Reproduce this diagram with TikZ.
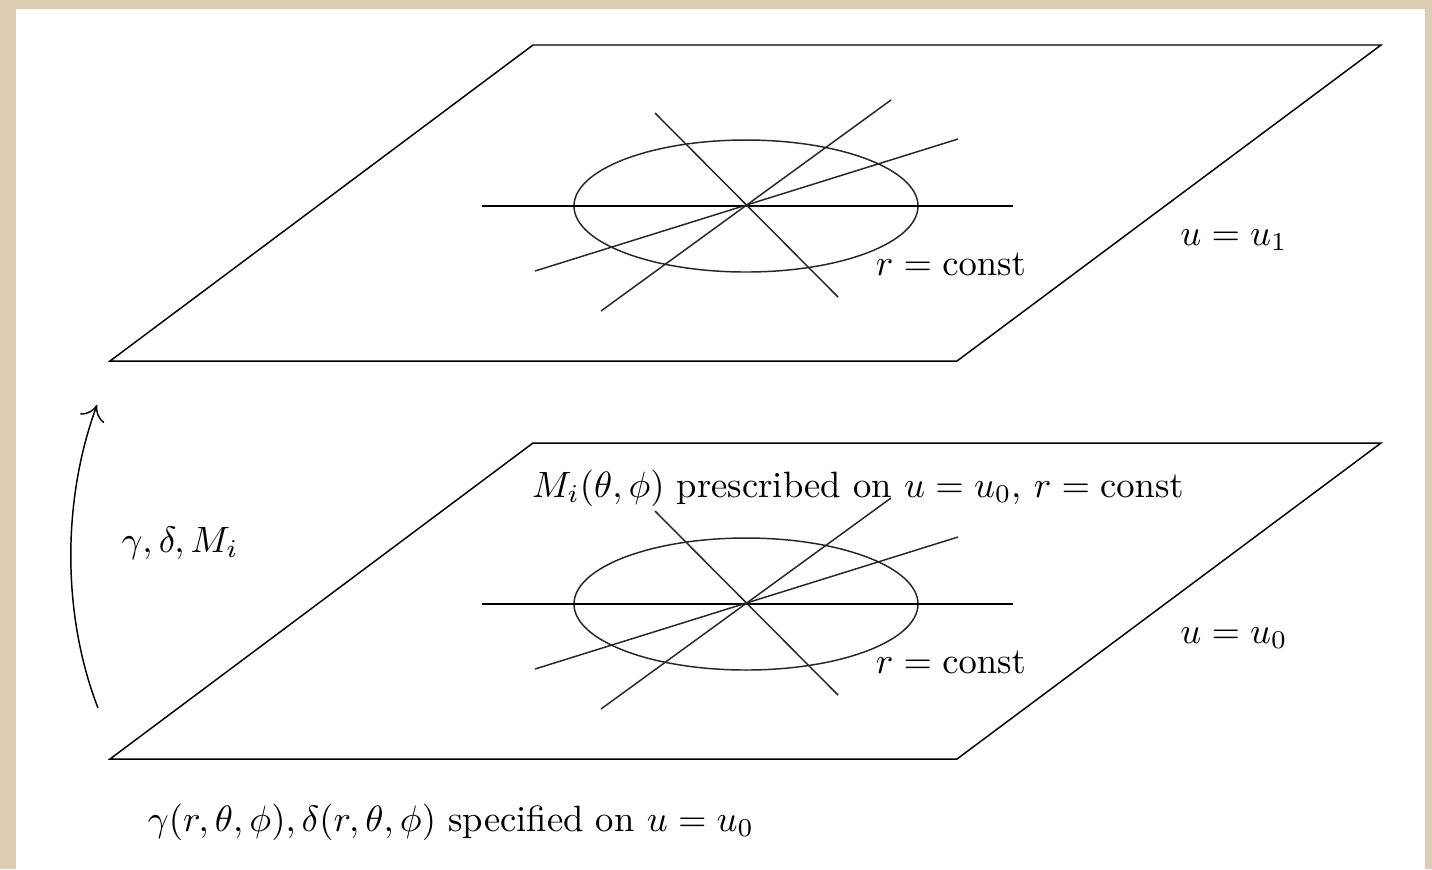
\documentclass[tikz,border=0pt]{standalone}
\usepackage{amsmath}
\usepackage{amssymb}
\usepackage{tikz}
\usetikzlibrary{calc,arrows.meta}
\definecolor{parchment}{RGB}{222,205,178}

\begin{document}
\begin{tikzpicture}[x=0.273pt, y=-0.273pt]
	\tikzset{plane/.style = {draw, line join=miter}, ray/.style = {draw, black!85}}
	\fill[parchment] (0,0) rectangle (1432,869);
	\fill[white] (16,9) rectangle (1425,869);
	\useasboundingbox (0,0) rectangle (1432,869);
	\foreach \n/\dy/\k in {top/0/1, bot/398/0}{
		\begin{scope}[shift={(0,\dy)}]
			\draw[plane] (110,361) -- (957,361) -- (1381,45) -- (533,45) -- cycle;
			\coordinate (c\n) at (746,206);
			\draw[ray] (c\n) ellipse [x radius=172, y radius=66];
			\draw (482,206) -- (1013,206);
			\draw[ray] (655,113) -- (838,297);
			\draw[ray] (601,311) -- (891,100);
			\draw[ray] (535,271) -- (958,139);
			\node (r\n) at (951,264) {$r = \mathrm{const}$};
			\node (u\n) at (1234,240) {$u = u_\k$};
		\end{scope}
	}
	\node (presc) at (858,488) {$M_i(\theta,\phi)$ prescribed on $u = u_0$, $r = \mathrm{const}$};
	\node (spec) at (451,822) {$\gamma(r,\theta,\phi), \delta(r,\theta,\phi)$ specified on $u = u_0$};
	\node (evol) at (180,543) {$\gamma, \delta, M_i$};
	\coordinate (from) at (98,708);
	\coordinate (to) at (97,405);
	\draw[-{To[length=4pt,width=7pt]}] (from) .. controls (62,615) and (62,500) .. (to);
\end{tikzpicture}
\end{document}
